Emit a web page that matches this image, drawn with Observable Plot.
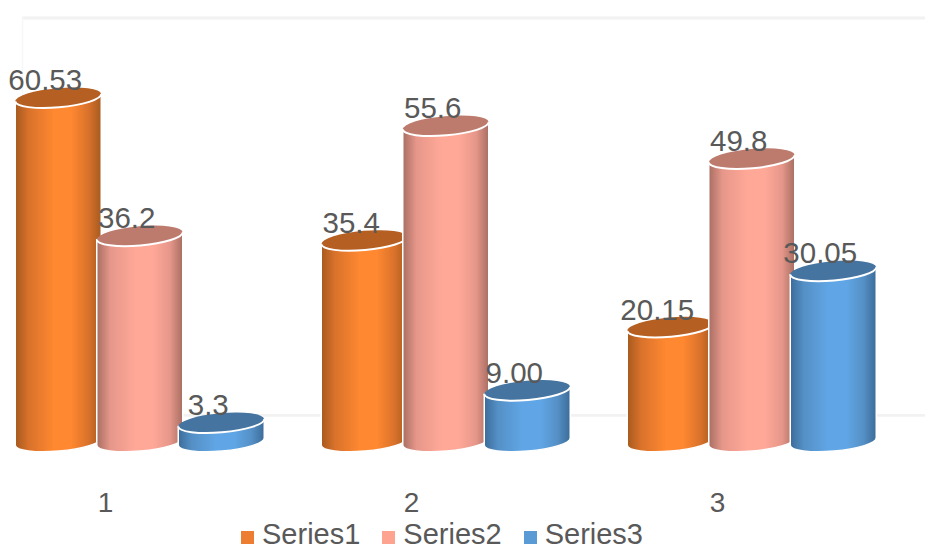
<!DOCTYPE html>
<html>
<head>
<meta charset="utf-8">
<script src="https://cdn.jsdelivr.net/npm/d3@7"></script>
<script src="https://cdn.jsdelivr.net/npm/@observablehq/plot@0.6"></script>
<style>
html,body{margin:0;padding:0;background:#fff;width:926px;height:545px;overflow:hidden}
#legend{display:flex;height:21px;padding:2px 0 0 241px;font:29px/21px "Liberation Sans",Arial,sans-serif;color:#595959;white-space:nowrap}
#legend span.item{display:flex;align-items:flex-start;margin-right:22px}
#legend i{display:block;width:13px;height:13px;margin:7px 8px 0 0}
svg{display:block}
</style>
</head>
<body>
<div id="chart"></div>
<div id="legend"></div>
<script>
const categories = [1, 2, 3];
const seriesNames = ["Series1", "Series2", "Series3"];
const series1 = [60.53, 35.4, 20.15];
const series2 = [36.2, 55.6, 49.8];
const series3 = [3.3, 9.0, 30.05];
const labels1 = ["60.53", "35.4", "20.15"];
const labels2 = ["36.2", "55.6", "49.8"];
const labels3 = ["3.3", "9.00", "30.05"];
const wallLevels = [4.67, 74.65];
const wallEdge = 0.729;
const wallRight = 3.68;
const swatch = ["#ED7D31", "#FFA391", "#5B9BD5"];
const bright = ["#FF8830", "#FFA898", "#60A6E6"];
const middle = ["#D9722B", "#E6978A", "#5590C6"];
const dark = ["#A65A1F", "#A86E62", "#3B6C99"];
const lid = ["#B55F22", "#BD7B6D", "#44749F"];

const unit = 306;                // px per category
const barWidth = 86 / unit;
const start = -46.75 / unit, step = 81.5 / unit, labelShift = -13.5 / unit;

const values = [series1, series2, series3], texts = [labels1, labels2, labels3];
const bars = seriesNames.flatMap((name, s) => categories.map((c, k) => {
  const center = c + start + s * step;
  return {name, s, c, value: values[s][k], label: texts[s][k], center,
          x1: center - barWidth / 2, x2: center + barWidth / 2, lx: center + labelShift};
}));
// draw in the reference's overlap order: within each category, series in turn
const ordered = d3.sort(bars, d => d.c, d => d.s);

const NS = "http://www.w3.org/2000/svg";
const tilt = -5 * Math.PI / 180;
function cylinders(index, scales, vals, dims, ctx) {
  const g = d3.select(ctx.document.createElementNS(NS, "g"));
  const defs = g.append("defs");
  seriesNames.forEach((n, s) => {
    const lg = defs.append("linearGradient").attr("id", "cyl" + s);
    [[0, dark[s]], [.16, middle[s]], [.45, bright[s]], [.65, bright[s]], [.85, middle[s]], [1, dark[s]]]
      .forEach(([o, c]) => lg.append("stop").attr("offset", o).attr("stop-color", c));
  });
  for (const i of index) {
    const d = ordered[i], x1 = vals.x1[i], x2 = vals.x2[i];
    const cx = (x1 + x2) / 2, yb = vals.y1[i], yt = vals.y2[i];
    const a = (x2 - x1) / 2, b = 9.6, dy = a * Math.sin(tilt);
    const deg = tilt * 180 / Math.PI;
    const body = `M${cx - a},${yt - dy}L${cx - a},${yb - dy}A${a},${b},${deg},0,0,${cx + a},${yb + dy}L${cx + a},${yt + dy}Z`;
    g.append("path").attr("d", body).attr("fill", `url(#cyl${d.s})`)
      .attr("stroke", "#fff").attr("stroke-width", 1.5);
    g.append("ellipse").attr("rx", a).attr("ry", b)
      .attr("transform", `translate(${cx},${yt}) rotate(${deg})`)
      .attr("fill", lid[d.s]);
    // bright front rim of the lid
    g.append("path").attr("fill", "none").attr("stroke", "#fff").attr("stroke-width", 2)
      .attr("d", `M${cx - a},${yt - dy}A${a},${b},${deg},0,0,${cx + a},${yt + dy}`);
  }
  return g.node();
}

const plot = Plot.plot({
  width: 926, height: 522,
  marginLeft: 0, marginRight: 0, marginTop: 0, marginBottom: 40,
  style: {fontFamily: '"Liberation Sans", Arial, sans-serif', background: "#fff", overflow: "visible"},
  x: {domain: [1, 3], range: [105, 717], axis: null},
  y: {domain: [0, 75], range: [441.5, 15.5], axis: null},
  marks: [
    Plot.ruleY(wallLevels, {x1: wallEdge, x2: wallRight, stroke: "#F2F2F2", strokeWidth: 2.8}),
    Plot.ruleX([wallEdge], {y1: wallLevels[0], y2: wallLevels[1], stroke: "#F7F7F7", strokeWidth: 1.5}),
    Plot.rect(ordered, {x1: "x1", x2: "x2", y1: () => 0, y2: "value", render: cylinders}),
    Plot.text(ordered, {x: "lx", y: "value", text: "label", fill: "#595959", fontSize: 29.5,
                        textAnchor: "middle", lineAnchor: "bottom", dy: -8}),
    Plot.axisX({ticks: categories, tickFormat: d => String(d), tickSize: 0, fontSize: 28,
                color: "#595959", anchor: "bottom", lineAnchor: "bottom", tickPadding: 0, dy: 29, label: null})
  ]
});
document.getElementById("chart").append(plot);

const legend = d3.select("#legend");
seriesNames.forEach((n, s) => {
  const it = legend.append("span").attr("class", "item");
  it.append("i").style("background", swatch[s]);
  it.append("span").text(n);
});
</script>
</body>
</html>
